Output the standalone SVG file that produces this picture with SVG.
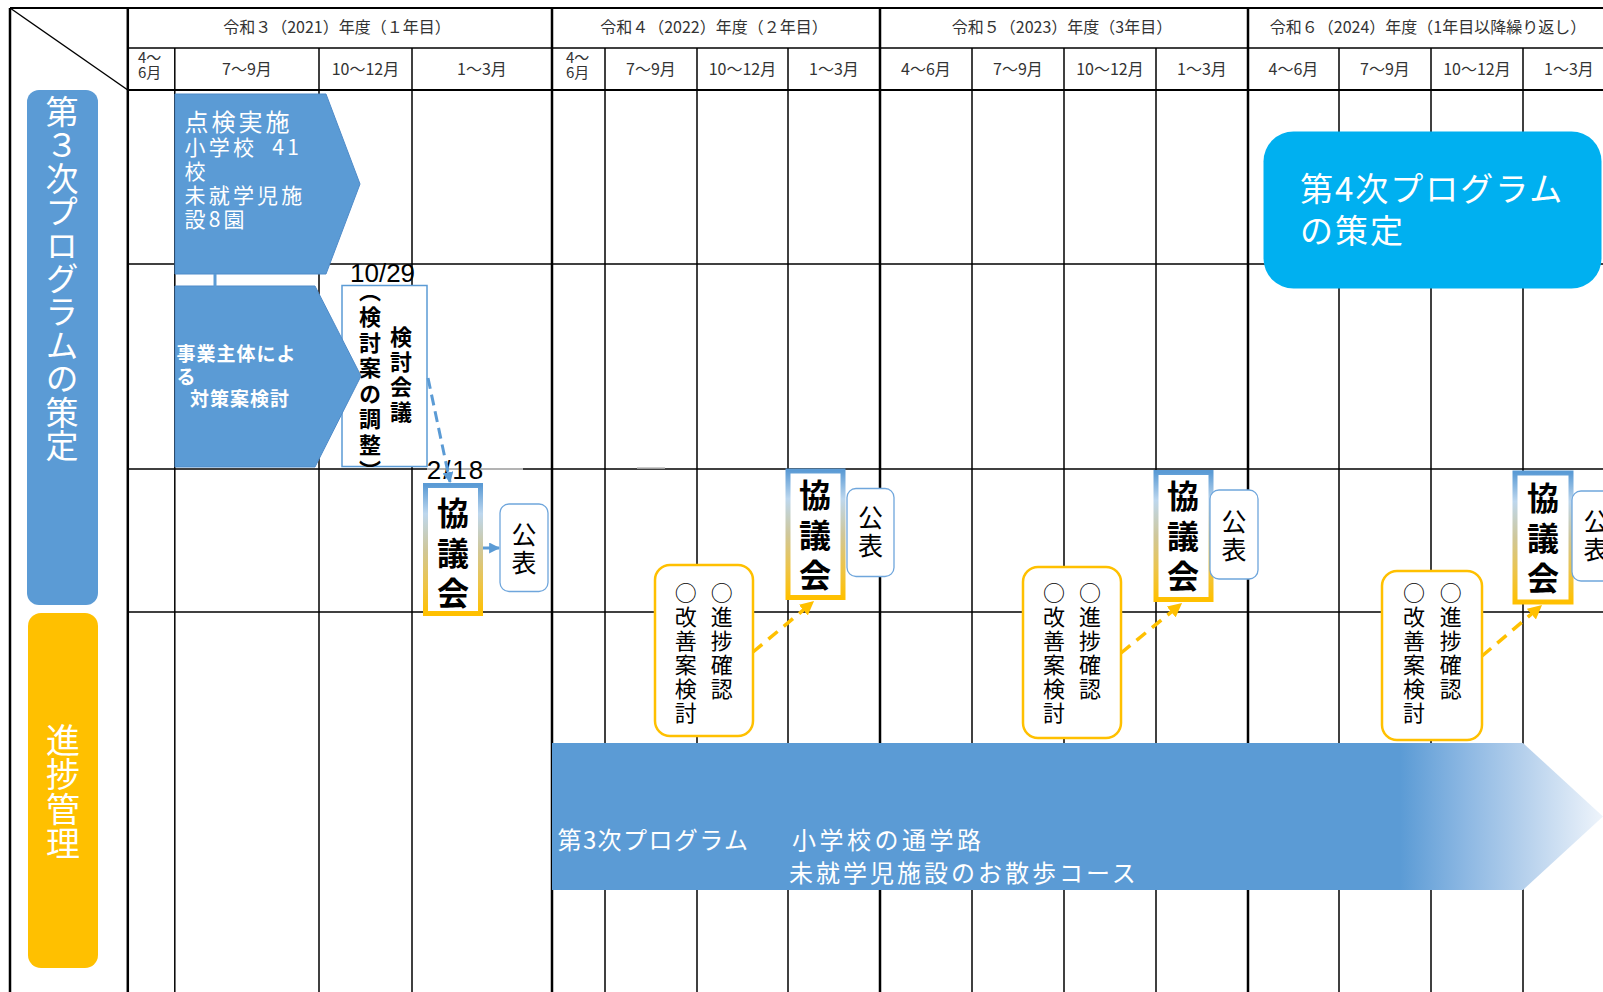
<svg xmlns="http://www.w3.org/2000/svg" width="1603" height="992" viewBox="0 0 1603 992">
<defs>
<style>
.g{stroke:#000;stroke-width:1.5;fill:none}
.gt{stroke:#000;stroke-width:2.5;fill:none}
.h{font-family:"Noto Sans CJK JP","Noto Sans",sans-serif;font-size:16px;fill:#333}
.hs{font-family:"Noto Sans CJK JP","Noto Sans",sans-serif;font-size:15px;fill:#333}
.w{font-family:"Noto Sans CJK JP",sans-serif;fill:#fff}
.v{font-family:"Noto Sans CJK JP",sans-serif;writing-mode:vertical-rl}
.num{font-family:"Liberation Sans",Arial,sans-serif;font-size:26px;fill:#000}
.kyo{fill:#fff;stroke:url(#kg);stroke-width:5}
.pub{fill:#fff;stroke:#6FA6DC;stroke-width:1.3}
.yb{fill:#fff;stroke:#FFC000;stroke-width:2.5}
.pent{fill:#5B9BD5;stroke:#4F8BC9;stroke-width:1}
</style>
<linearGradient id="kg" x1="0" y1="0" x2="0" y2="1">
<stop offset="0" stop-color="#5B9BD5"/>
<stop offset="0.22" stop-color="#BDD7EE"/>
<stop offset="0.5" stop-color="#CFC79A"/>
<stop offset="0.78" stop-color="#EEC445"/>
<stop offset="1" stop-color="#FFC000"/>
</linearGradient>
<linearGradient id="bar" gradientUnits="userSpaceOnUse" x1="552" y1="0" x2="1603" y2="0">
<stop offset="0" stop-color="#5B9BD5"/>
<stop offset="0.807" stop-color="#5B9BD5"/>
<stop offset="0.87" stop-color="#8DB8E3"/>
<stop offset="0.924" stop-color="#B5D0EC"/>
<stop offset="1" stop-color="#EEF4FB"/>
</linearGradient>
<marker id="ab" viewBox="0 0 10 10" refX="9" refY="5" markerWidth="11" markerHeight="11" markerUnits="userSpaceOnUse" orient="auto">
<path d="M0,0 L10,5 L0,10 z" fill="#5B9BD5"/>
</marker>
<marker id="ay" viewBox="0 0 10 10" refX="9" refY="5" markerWidth="14" markerHeight="14" markerUnits="userSpaceOnUse" orient="auto">
<path d="M0,0 L10,5 L0,10 z" fill="#FFC000"/>
</marker>
</defs>
<rect x="0" y="0" width="1603" height="992" fill="#fff"/>

<g id="grid">
<line class="g" x1="10" y1="8" x2="1603" y2="8" style="stroke-width:2"/>
<line class="gt" x1="10" y1="8" x2="10" y2="992"/>
<line class="gt" x1="127.8" y1="8" x2="127.8" y2="992"/>
<line class="g" x1="10" y1="8" x2="127.8" y2="90"/>
<line class="g" x1="127.8" y1="48" x2="1603" y2="48"/>
<line class="g" x1="127.8" y1="90" x2="1603" y2="90" style="stroke-width:2"/>
<line class="gt" x1="552" y1="8" x2="552" y2="992"/>
<line class="gt" x1="880" y1="8" x2="880" y2="992"/>
<line class="gt" x1="1248" y1="8" x2="1248" y2="992"/>
<line class="g" x1="174.8" y1="48" x2="174.8" y2="992"/>
<line class="g" x1="319" y1="48" x2="319" y2="992"/>
<line class="g" x1="412" y1="48" x2="412" y2="992"/>
<line class="g" x1="605" y1="48" x2="605" y2="992"/>
<line class="g" x1="697" y1="48" x2="697" y2="992"/>
<line class="g" x1="788" y1="48" x2="788" y2="992"/>
<line class="g" x1="972" y1="48" x2="972" y2="992"/>
<line class="g" x1="1064" y1="48" x2="1064" y2="992"/>
<line class="g" x1="1156" y1="48" x2="1156" y2="992"/>
<line class="g" x1="1339" y1="48" x2="1339" y2="992"/>
<line class="g" x1="1431" y1="48" x2="1431" y2="992"/>
<line class="g" x1="1523" y1="48" x2="1523" y2="992"/>
<line class="g" x1="127.8" y1="264" x2="1603" y2="264"/>
<line class="g" x1="127.8" y1="469" x2="427" y2="469"/>
<line class="g" x1="427" y1="469" x2="523" y2="469" style="stroke:#9A9A9A"/>
<line class="g" x1="523" y1="469" x2="1603" y2="469"/>
<line class="g" x1="637" y1="468" x2="665" y2="468" style="stroke:#BBB"/>
<line class="g" x1="127.8" y1="612" x2="1603" y2="612"/>
</g>

<g id="header">
<text class="h" x="337" y="33" text-anchor="middle">令和３（2021）年度（１年目）</text>
<text class="h" x="714" y="33" text-anchor="middle">令和４（2022）年度（２年目）</text>
<text class="h" x="1062" y="33" text-anchor="middle">令和５（2023）年度（3年目）</text>
<text class="h" x="1428" y="33" text-anchor="middle">令和６（2024）年度（1年目以降繰り返し）</text>
<text class="hs" x="138" y="63">4～</text>
<text class="hs" x="138" y="78">6月</text>
<text class="h" x="247" y="75" text-anchor="middle">7～9月</text>
<text class="h" x="365.5" y="75" text-anchor="middle">10～12月</text>
<text class="h" x="482" y="75" text-anchor="middle">1～3月</text>
<text class="hs" x="566" y="63">4～</text>
<text class="hs" x="566" y="78">6月</text>
<text class="h" x="651" y="75" text-anchor="middle">7～9月</text>
<text class="h" x="742.5" y="75" text-anchor="middle">10～12月</text>
<text class="h" x="834" y="75" text-anchor="middle">1～3月</text>
<text class="h" x="926" y="75" text-anchor="middle">4～6月</text>
<text class="h" x="1018" y="75" text-anchor="middle">7～9月</text>
<text class="h" x="1110" y="75" text-anchor="middle">10～12月</text>
<text class="h" x="1202" y="75" text-anchor="middle">1～3月</text>
<text class="h" x="1293.5" y="75" text-anchor="middle">4～6月</text>
<text class="h" x="1385" y="75" text-anchor="middle">7～9月</text>
<text class="h" x="1477" y="75" text-anchor="middle">10～12月</text>
<text class="h" x="1569" y="75" text-anchor="middle">1～3月</text>
</g>

<g id="label-plan">
<rect x="27" y="90" width="71" height="515" rx="12" fill="#5B9BD5"/>
<text class="v" x="62" y="95" style="font-size:33px;letter-spacing:0.4px;fill:#fff">第３次プログラムの策定</text>
</g>
<g id="label-progress">
<rect x="28" y="613" width="70" height="355" rx="13" fill="#FFC000"/>
<text class="v" x="63" y="723" style="font-size:34px;letter-spacing:0.5px;fill:#fff">進捗管理</text>
</g>

<g id="bar-program3">
<path d="M552,743 L1523,743 L1603,816.5 L1523,890 L552,890 Z" fill="url(#bar)"/>
<text class="w" x="557.5" y="849" style="font-size:24px;letter-spacing:1.4px">第3次プログラム</text>
<text class="w" x="792" y="849" style="font-size:24px;letter-spacing:3.5px">小学校の通学路</text>
<text class="w" x="789" y="882" style="font-size:24px;letter-spacing:3px">未就学児施設のお散歩コース</text>
</g>

<g id="arrow-inspection">
<path class="pent" d="M175,94 L326,94 L360,184 L326,274 L175,274 Z"/>
<text class="w" x="184.5" y="131" style="font-size:24px;letter-spacing:3px">点検実施</text>
<text class="w" x="184.5" y="155" style="font-size:21px;letter-spacing:3.2px">小学校　<tspan dx="-9">41</tspan></text>
<text class="w" x="184.5" y="179" style="font-size:21px;letter-spacing:3.2px">校</text>
<text class="w" x="184.5" y="203" style="font-size:21px;letter-spacing:3.2px">未就学児施</text>
<text class="w" x="184.5" y="227" style="font-size:21px;letter-spacing:3.2px">設8園</text>
</g>

<g id="review-meeting">
<text class="num" x="350" y="281.5">10/29</text>
<rect x="342" y="285.5" width="85" height="181" fill="#fff" stroke="#5B9BD5" stroke-width="1.5"/>
<text class="v" x="401" y="326" style="font-size:22px;font-weight:bold;letter-spacing:3px;fill:#000">検討会議</text>
<text class="v" x="370" y="280" style="font-size:22px;font-weight:bold;letter-spacing:3.6px;fill:#000">（検討案の調整）</text>
</g>

<g id="arrow-measures">
<path class="pent" d="M175,286 L315,286 L361,376 L315,467 L175,467 Z"/>
<text class="w" x="176.5" y="361" style="font-size:19px;font-weight:bold;letter-spacing:1px">事業主体によ</text>
<text class="w" x="176.5" y="384" style="font-size:19px;font-weight:bold;letter-spacing:1px">る</text>
<text class="w" x="190" y="406" style="font-size:19px;font-weight:bold;letter-spacing:1px">対策案検討</text>
</g>

<g id="council-1">
<text class="num" x="426.7" y="479" style="letter-spacing:2px">2/18</text>
<rect class="kyo" x="425.5" y="485.5" width="55" height="128"/>
<text class="v" x="453" y="497" style="font-size:32px;font-weight:bold;letter-spacing:8px;fill:#000">協議会</text>
</g>
<g id="publish-1">
<rect class="pub" x="500" y="504" width="48" height="87.5" rx="9"/>
<text class="v" x="524" y="522" style="font-size:25px;letter-spacing:3px;fill:#000">公表</text>
</g>

<g id="progress-1">
<rect class="yb" x="655" y="565" width="98" height="171" rx="15"/>
<text class="v" x="721.7" y="582" style="font-size:22px;letter-spacing:2px;fill:#000">○進捗確認</text>
<text class="v" x="685.7" y="582" style="font-size:22px;letter-spacing:2px;fill:#000">○改善案検討</text>
</g>
<g id="council-2">
<rect class="kyo" x="788" y="471" width="55" height="126.5"/>
<text class="v" x="815" y="479" style="font-size:32px;font-weight:bold;letter-spacing:8px;fill:#000">協議会</text>
</g>
<g id="publish-2">
<rect class="pub" x="847" y="488.5" width="47" height="88" rx="9"/>
<text class="v" x="870.5" y="505" style="font-size:25px;letter-spacing:3px;fill:#000">公表</text>
</g>

<g id="progress-2">
<rect class="yb" x="1023" y="567" width="98" height="171" rx="15"/>
<text class="v" x="1090" y="582" style="font-size:22px;letter-spacing:2px;fill:#000">○進捗確認</text>
<text class="v" x="1054" y="582" style="font-size:22px;letter-spacing:2px;fill:#000">○改善案検討</text>
</g>
<g id="council-3">
<rect class="kyo" x="1156" y="472.5" width="55" height="127"/>
<text class="v" x="1183" y="480" style="font-size:32px;font-weight:bold;letter-spacing:8px;fill:#000">協議会</text>
</g>
<g id="publish-3">
<rect class="pub" x="1210" y="490" width="48" height="89" rx="9"/>
<text class="v" x="1234" y="508.5" style="font-size:25px;letter-spacing:3px;fill:#000">公表</text>
</g>

<g id="progress-3">
<rect class="yb" x="1382" y="571" width="100" height="169" rx="15"/>
<text class="v" x="1450.7" y="582" style="font-size:22px;letter-spacing:2px;fill:#000">○進捗確認</text>
<text class="v" x="1414" y="582" style="font-size:22px;letter-spacing:2px;fill:#000">○改善案検討</text>
</g>
<g id="council-4">
<rect class="kyo" x="1515" y="473" width="56" height="129"/>
<text class="v" x="1543" y="482" style="font-size:32px;font-weight:bold;letter-spacing:8px;fill:#000">協議会</text>
</g>
<g id="publish-4">
<rect class="pub" x="1572" y="491" width="48" height="90" rx="9"/>
<text class="v" x="1596" y="508.5" style="font-size:25px;letter-spacing:3px;fill:#000">公表</text>
</g>

<g id="program4">
<rect x="1263.5" y="131.5" width="338" height="157" rx="30" fill="#00B0F0"/>
<text class="w" x="1300" y="201" style="font-size:33px;letter-spacing:2px">第4次プログラム</text>
<text class="w" x="1300" y="243" style="font-size:33px;letter-spacing:2px">の策定</text>
</g>

<g id="connectors">
<line x1="215" y1="274" x2="215" y2="287" stroke="#5B9BD5" stroke-width="3"/>
<line x1="428" y1="378" x2="450" y2="482" stroke="#5B9BD5" stroke-width="3" stroke-dasharray="11 6" marker-end="url(#ab)"/>
<line x1="483" y1="548" x2="499" y2="548" stroke="#5B9BD5" stroke-width="3" marker-end="url(#ab)"/>
<line x1="753" y1="652" x2="813" y2="602" stroke="#FFC000" stroke-width="3.5" stroke-dasharray="12 8" marker-end="url(#ay)"/>
<line x1="1121" y1="653" x2="1181" y2="604" stroke="#FFC000" stroke-width="3.5" stroke-dasharray="12 8" marker-end="url(#ay)"/>
<line x1="1482" y1="656" x2="1541" y2="606" stroke="#FFC000" stroke-width="3.5" stroke-dasharray="12 8" marker-end="url(#ay)"/>
</g>
</svg>
